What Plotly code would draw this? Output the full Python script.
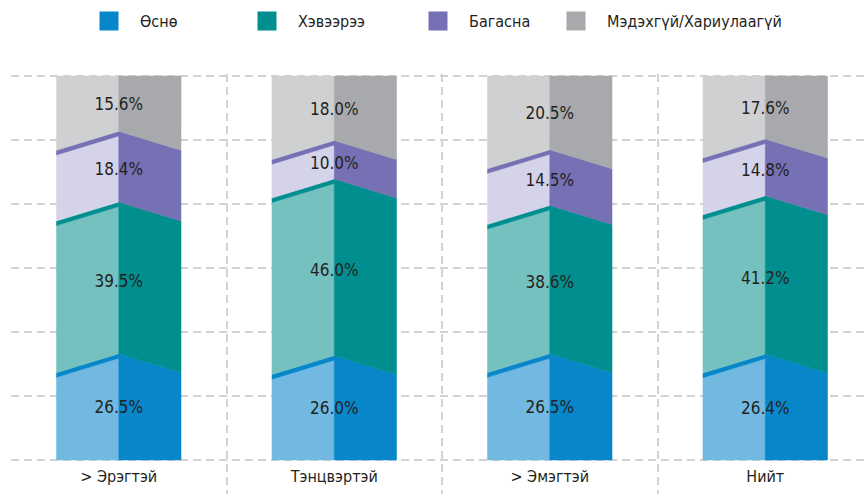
import plotly.graph_objects as go

categories = ["> Эрэгтэй", "Тэнцвэртэй", "> Эмэгтэй", "Нийт"]
series_names = ["Өснө", "Хэвээрээ", "Багасна", "Мэдэхгүй/Хариулаагүй"]
osno = [26.5, 26.0, 26.5, 26.4]
khevee = [39.5, 46.0, 38.6, 41.2]
bagasna = [18.4, 10.0, 14.5, 14.8]
medekhgui = [15.6, 18.0, 20.5, 17.6]
series_values = [osno, khevee, bagasna, medekhgui]

dark_colors = ["#0787CA", "#008F8E", "#7571B4", "#A8A9AC"]
light_colors = ["#71B9E1", "#74C1C0", "#D5D3EA", "#CFD0D2"]

FONT = "Liberation Sans Narrow, Arial Narrow, DejaVu Sans Condensed, sans-serif"
TXT = "#231F20"
GRID = "#D2D2D2"

HW = 0.289    # half bar width (x units)
D = 4.95      # edge drop of folded boundary (y units)
S = 1.2       # darker strip thickness
TOP = 100.0

fig = go.Figure()

light_x = [[] for _ in series_names]
light_y = [[] for _ in series_names]
dark_x = [[] for _ in series_names]
dark_y = [[] for _ in series_names]
lab_x, lab_y, lab_t = [], [], []

def add_poly(xs, ys, px, py):
    xs.extend(px + [px[0], None])
    ys.extend(py + [py[0], None])

n = len(series_names)
for j in range(len(categories)):
    L, M, R = j - HW, j, j + HW
    cum = 0.0
    for k in range(n):
        v = series_values[k][j]
        lo = cum
        hi = cum + v
        bottom = (k == 0)
        top = (k == n - 1)
        # left face (light)
        lo_mid = 0 if bottom else lo + S
        lo_edge = 0 if bottom else lo + S - D
        hi_mid = TOP if top else hi
        hi_edge = TOP if top else hi - D
        add_poly(light_x[k], light_y[k], [L, M, M, L], [lo_edge, lo_mid, hi_mid, hi_edge])
        # right face (dark)
        rhi_mid = TOP if top else hi + S
        rhi_edge = TOP if top else hi + S - D
        add_poly(dark_x[k], dark_y[k], [M, R, R, M], [lo_mid, lo_edge, rhi_edge, rhi_mid])
        # thin dark strip on left face
        if not top:
            add_poly(dark_x[k], dark_y[k], [L, M, M, L], [hi - D, hi, hi + S, hi + S - D])
        lab_x.append(M)
        lab_y.append((lo + min(hi, TOP)) / 2)
        lab_t.append(f"{v:.1f}%")
        cum = hi

for k in range(n):
    fig.add_trace(go.Scatter(x=light_x[k], y=light_y[k], fill="toself", mode="lines",
                             fillcolor=light_colors[k], line=dict(color=light_colors[k], width=0.5),
                             hoverinfo="skip", showlegend=False))
    fig.add_trace(go.Scatter(x=dark_x[k], y=dark_y[k], fill="toself", mode="lines",
                             fillcolor=dark_colors[k], line=dict(color=dark_colors[k], width=0.5),
                             hoverinfo="skip", showlegend=False))

fig.add_trace(go.Scatter(x=lab_x, y=lab_y, text=lab_t, mode="text",
                         textfont=dict(family=FONT, size=17, color=TXT),
                         hoverinfo="skip", showlegend=False))

legend_px = [78, 236, 407, 545]
legend_names = ["legend", "legend2", "legend3", "legend4"]
for k in range(n):
    fig.add_trace(go.Scatter(x=[None], y=[None], mode="markers", name=series_names[k],
                             marker=dict(symbol="square", size=16, color=dark_colors[k],
                                         line=dict(color=dark_colors[k], width=3)),
                             legend=legend_names[k]))

W, H = 866, 494
ML, MT = 11, 74
plot_w = W - ML
legend_layout = {}
for k in range(n):
    legend_layout[legend_names[k]] = dict(
        x=(legend_px[k] - ML) / plot_w, xanchor="left",
        y=1 + (MT - 21) / (H - MT), yanchor="middle",
        orientation="h", font=dict(family=FONT, size=16, color=TXT),
        bgcolor="rgba(0,0,0,0)", borderwidth=0, itemwidth=52)

ymin = -8.854
ymax = ymin + (H - MT) / 3.84

fig.update_layout(
    width=W, height=H,
    margin=dict(l=ML, r=0, t=MT, b=0, pad=0, autoexpand=False),
    paper_bgcolor="white", plot_bgcolor="white",
    font=dict(family=FONT, size=16, color=TXT),
    xaxis=dict(range=[-0.5, -0.5 + plot_w / 215.5], tickmode="array",
               tickvals=list(range(len(categories))), ticktext=categories,
               showgrid=False, zeroline=False, showline=False, ticks="",
               anchor="free", position=(494 - 460) / (H - MT), automargin=False,
               ticklabelstandoff=5,
               tickfont=dict(family=FONT, size=16, color=TXT),
               minor=dict(tick0=-0.5, dtick=1, showgrid=True, gridcolor=GRID,
                          gridwidth=1.5, griddash="8px,5px", ticks=""),
               fixedrange=True),
    yaxis=dict(range=[ymin, ymax], tick0=0, dtick=100 / 6, showticklabels=False,
               showgrid=True, gridcolor=GRID, gridwidth=1.5, griddash="8px,5px",
               zeroline=False, showline=False, ticks="", fixedrange=True,
               automargin=False),
    **legend_layout,
)

fig.write_html("out.html", config={"displayModeBar": False},
               post_script="document.body.style.margin='0';document.body.style.overflow='hidden';")
